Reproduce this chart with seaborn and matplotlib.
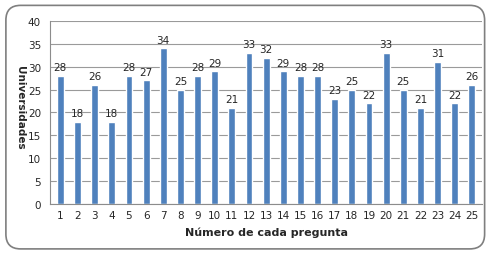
import matplotlib
matplotlib.use("Agg")
import matplotlib.pyplot as plt
import seaborn as sns
import pandas as pd
from matplotlib.patches import FancyBboxPatch

preguntas = [str(i) for i in range(1, 26)]
universidades = [28, 18, 26, 18, 28, 27, 34, 25, 28, 29, 21, 33, 32, 29, 28, 28, 23, 25, 22, 33, 25, 21, 31, 22, 26]
yticks = [0, 5, 10, 15, 20, 25, 30, 35, 40]

df = pd.DataFrame({"pregunta": preguntas, "universidades": universidades})

sns.set_style("white")
plt.rcParams['font.family'] = ['DejaVu Sans']

fig = plt.figure(figsize=(4.91, 2.55), dpi=100)
ax = fig.add_axes([0.102, 0.196, 0.880, 0.718])

sns.barplot(data=df, x="pregunta", y="universidades", color="#4F81BD",
            saturation=1, width=0.4, ax=ax)

ax.set_ylim(0, 40)
ax.set_yticks(yticks)
ax.yaxis.grid(True, color="#9a9a9a", linewidth=0.8)
ax.set_axisbelow(True)
for s in ["top", "right"]:
    ax.spines[s].set_visible(False)
ax.spines["left"].set_color("#8c8c8c")
ax.spines["bottom"].set_color("#8c8c8c")
ax.tick_params(axis="both", labelsize=7.5, length=3, color="#8c8c8c")
ax.tick_params(axis="x", length=0, pad=4)
ax.set_xlim(-0.6, 24.6)

for i, v in enumerate(universidades):
    ax.text(i, v + 0.8, str(v), ha="center", va="bottom", fontsize=7.5)

ax.set_xlabel("Número de cada pregunta", fontsize=8, fontweight="bold", labelpad=5)
ax.set_ylabel("Universidades", fontsize=7.5, fontweight="bold", rotation=270, labelpad=10)
ax.yaxis.set_label_coords(-0.07, 0.53)
ax.yaxis.label.set_va("center")

border = FancyBboxPatch((0.012, 0.02), 0.975, 0.955, boxstyle="round,pad=0,rounding_size=0.03",
                        transform=fig.transFigure, fill=False, edgecolor="#7f7f7f",
                        linewidth=1.2, mutation_aspect=491/255)
fig.patches.append(border)

fig.savefig("out.png", dpi=100)
